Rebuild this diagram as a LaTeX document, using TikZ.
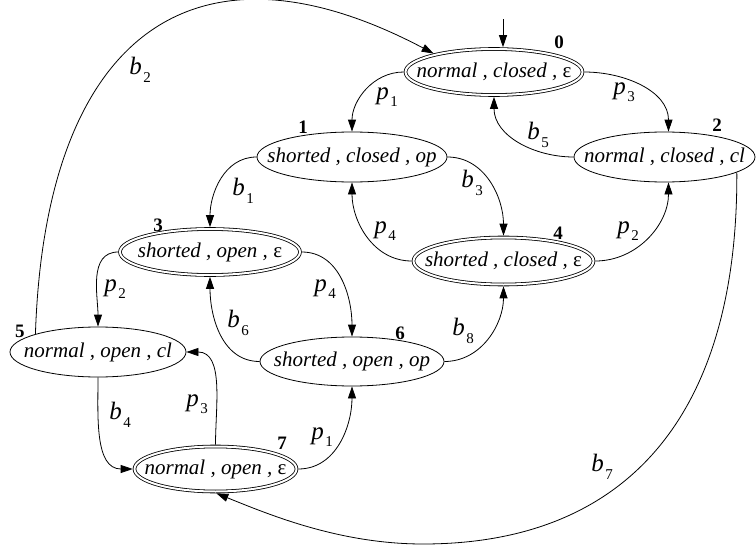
\documentclass[tikz,border=0pt]{standalone}
\usepackage{fontspec}
\setmainfont{Liberation Serif}
\usetikzlibrary{arrows.meta,shapes.geometric}
\tikzset{
 st/.style={ellipse, draw, line width=0.8pt, inner sep=0pt, outer sep=0.4pt, font=\fontsize{21}{21}\selectfont},
 acc/.style={st, double, double distance=2pt, outer sep=1.8pt},
 num/.style={font=\fontsize{19}{19}\selectfont\bfseries, inner sep=0pt},
 lab/.style={font=\fontsize{25}{25}\selectfont, inner sep=0pt},
 edge/.style={line width=0.8pt, -{Triangle[length=12pt,width=8pt]}},
}
\newcommand{\stt}[3]{\makebox[0pt]{\itshape #1 , #2 , \upshape #3}}
\newcommand{\lbl}[2]{\textit{#1}\hspace{1.5pt}\raisebox{-0.3em}{\fontsize{15}{15}\selectfont #2}}
\begin{document}
\begin{tikzpicture}[x=1pt,y=-1pt]
\useasboundingbox (0,0) rectangle (756,546);
% states
\node[acc, minimum width=177pt, minimum height=46pt] (n0) at (494,72) {\stt{normal}{closed}{ε}};
\node[st,  minimum width=190pt, minimum height=50pt] (n1) at (352,157) {\stt{shorted}{closed}{\itshape op}};
\node[st,  minimum width=181pt, minimum height=50pt] (n2) at (664.5,157) {\stt{normal}{closed}{\itshape cl}};
\node[acc, minimum width=180pt, minimum height=46pt] (n3) at (210,252) {\stt{shorted}{open}{ε}};
\node[acc, minimum width=180pt, minimum height=47pt] (n4) at (503.5,261) {\stt{shorted}{closed}{ε}};
\node[st,  minimum width=176pt, minimum height=50pt] (n5) at (98,352) {\stt{normal}{open}{\itshape cl}};
\node[st,  minimum width=184pt, minimum height=49pt] (n6) at (352,361.5) {\stt{shorted}{open}{\itshape op}};
\node[acc, minimum width=162pt, minimum height=45pt] (n7) at (215.5,469) {\stt{normal}{open}{ε}};
% state numbers
\node[num] (k0) at (559,42) {0};
\node[num] (k1) at (303,127) {1};
\node[num] (k2) at (717,125) {2};
\node[num] (k3) at (158,225) {3};
\node[num] (k4) at (558,233) {4};
\node[num] (k5) at (20,331) {5};
\node[num] (k6) at (400,333) {6};
\node[num] (k7) at (282,443) {7};
% initial arrow
\coordinate (init) at (503,19);
\draw[edge] (init) -- (init |- n0.north);
% transitions
\draw[edge] (n0.west) to[out=180,in=90] (n1.north);
\draw[edge] (n0.east) to[out=0,in=90] ([xshift=4pt]n2.north);
\draw[edge] (n2.west) to[out=180,in=-90] (n0.south);
\draw[edge] (n1.west) to[out=180,in=90] (n3.north);
\draw[edge] (n1.east) to[out=0,in=90] (n4.north);
\draw[edge] (n4.west) to[out=180,in=-90] (n1.south);
\draw[edge] (n4.east) to[out=0,in=-90] ([xshift=4pt]n2.south);
\draw[edge] (n3.west) to[out=180,in=90] (n5.north);
\draw[edge] (n3.east) to[out=0,in=90] (n6.north);
\draw[edge] (n6.west) to[out=180,in=-90] (n3.south);
\draw[edge] (n6.east) to[out=0,in=-90] (n4.south);
\draw[edge] (n5.south) to[out=-90,in=180] (n7.west);
\draw[edge] (n7.north) to[out=90,in=0] (n5.east);
\draw[edge] (n7.east) to[out=0,in=-90] (n6.south);
\draw[edge] (n5.164) .. controls (45,40) and (190,-75) .. (n0.163);
\coordinate (b7m) at (423,544);
\draw[edge] (n2.348) .. controls (738,420) and (623,544) .. (b7m) .. controls (340,544) and (270,515) .. (n7.272);
% labels
\node[lab] (l01) at (387,97) {\lbl{p}{1}};
\node[lab] (l02) at (624,92) {\lbl{p}{3}};
\node[lab] (l20) at (538,135) {\lbl{b}{5}};
\node[lab] (l13) at (243,191) {\lbl{b}{1}};
\node[lab] (l14) at (472,183) {\lbl{b}{3}};
\node[lab] (l41) at (385,231) {\lbl{p}{4}};
\node[lab] (l42) at (628,231) {\lbl{p}{2}};
\node[lab] (l35) at (115,289) {\lbl{p}{2}};
\node[lab] (l36) at (325,289) {\lbl{p}{4}};
\node[lab] (l63) at (238,323) {\lbl{b}{6}};
\node[lab] (l64) at (463,331) {\lbl{b}{8}};
\node[lab] (l57) at (120,415) {\lbl{b}{4}};
\node[lab] (l75) at (197,404) {\lbl{p}{3}};
\node[lab] (l76) at (322,437) {\lbl{p}{1}};
\node[lab] (l27) at (602,467) {\lbl{b}{7}};
\node[lab] (l50) at (140,70) {\lbl{b}{2}};
\end{tikzpicture}
\end{document}
